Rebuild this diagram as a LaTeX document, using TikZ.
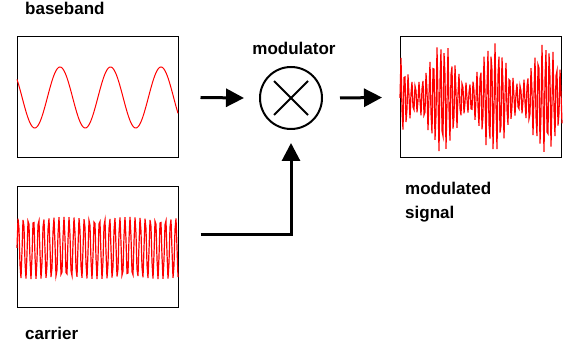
\documentclass[tikz,border=0pt]{standalone}
\usepackage{fontspec}
\setmainfont{Liberation Sans}
\usetikzlibrary{arrows.meta}
\begin{document}
\begin{tikzpicture}[x=1pt,y=-1pt,
  sigbox/.style={draw,line width=1pt,minimum width=161pt,minimum height=121pt,inner sep=0pt},
  lbl/.style={font=\fontsize{17}{20}\selectfont\bfseries,inner sep=0pt},
  arr/.style={line width=3pt,-{Triangle[length=18pt,width=18pt]}},
  wave/.style={red,line width=1.2pt}]
\useasboundingbox (0,0) rectangle (583,344);
% boxes
\node[sigbox] (bb) at (97.5,97.5) {};
\node[sigbox] (car) at (97.5,247.5) {};
\node[sigbox] (out) at (481,97.5) {};
\node[draw,circle,line width=2pt,minimum size=62pt,inner sep=0pt] (mod) at (291,98) {};
% multiplier cross
\draw[line width=2pt] ([shift={(-17pt,-17pt)}]mod.center) -- ([shift={(17pt,17pt)}]mod.center);
\draw[line width=2pt] ([shift={(-17pt,17pt)}]mod.center) -- ([shift={(17pt,-17pt)}]mod.center);
% waves
\draw[wave,line width=1pt] plot[domain=17:178,samples=200] (\x,{97.5-30.5*cos(6.28319*(\x-60)/50.5 r)});
\draw[wave] plot[domain=17:178,samples=162] (\x,{248-31*sin(6.28319*(\x-17)/5.08 r)});
\draw[wave] plot[domain=400:562,samples=163] (\x,{98-(35+20*cos(6.28319*(\x-442)/51.5 r))*sin(6.28319*(\x-400)/3.62 r)});
% labels
\node[lbl,anchor=base west] (lbb) at (25,15) {baseband};
\node[lbl,anchor=base west] (lcar) at (25,339) {carrier};
\node[lbl,anchor=base] (lmod) at (294,55) {modulator};
\node[lbl,anchor=base west] (lout1) at (405,195) {modulated};
\node[lbl,anchor=base west] (lout2) at (405,219) {signal};
% connectors
\draw[arr] ([xshift=22pt]bb.east) -- ([xshift=-15pt]mod.west);
\draw[arr] ([xshift=17pt]mod.east) -- ([xshift=-18pt]out.west);
\draw[arr] ([xshift=22pt,yshift=12.5pt]car.east) -| ([yshift=-13pt]mod.south);
\end{tikzpicture}
\end{document}
